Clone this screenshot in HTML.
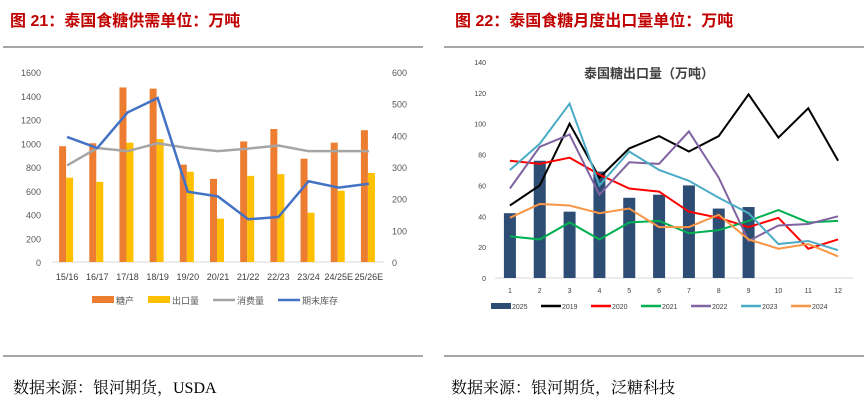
<!DOCTYPE html>
<html><head><meta charset="utf-8"><style>
body{margin:0;width:864px;height:403px;background:#fff;overflow:hidden;font-family:"Liberation Sans","Noto Sans CJK SC",sans-serif}
svg{position:absolute;left:0;top:0}
</style></head><body>
<svg id="s" width="864" height="403">
<text x="10" y="26" font-size="16" font-weight="bold" fill="#c00000">图 21：泰国食糖供需单位：万吨</text>
<text x="455" y="26" font-size="16" font-weight="bold" fill="#c00000">图 22：泰国食糖月度出口量单位：万吨</text>
<line x1="3" y1="47" x2="423" y2="47" stroke="#888" stroke-width="1.5"/>
<line x1="444" y1="47" x2="864" y2="47" stroke="#888" stroke-width="1.5"/>
<line x1="3" y1="356" x2="423" y2="356" stroke="#888" stroke-width="1.5"/>
<line x1="444" y1="356" x2="864" y2="356" stroke="#888" stroke-width="1.5"/>
<text x="13" y="393" font-size="16" fill="#000" font-family="Liberation Serif,Noto Serif CJK SC,serif">数据来源：银河期货，USDA</text>
<text x="451" y="393" font-size="16" fill="#000" font-family="Liberation Serif,Noto Serif CJK SC,serif">数据来源：银河期货，泛糖科技</text>
<text x="649" y="78" font-size="13" font-weight="bold" fill="#404040" text-anchor="middle">泰国糖出口量（万吨）</text>
<g id="L"></g><g id="R"></g>
</svg>
<script>
const NS="http://www.w3.org/2000/svg";
function mk(p,t,a,txt){const e=document.createElementNS(NS,t);for(const k in a)e.setAttribute(k,a[k]);if(txt!=null)e.textContent=txt;p.appendChild(e);return e;}
// Left chart data
const seasons=["15/16","16/17","17/18","18/19","19/20","20/21","21/22","22/23","23/24","24/25E","25/26E"];
const production=[975,1000,1470,1460,820,700,1015,1120,870,1005,1110];
const exportsL=[710,675,1005,1035,760,365,725,740,415,600,750];
const consumption=[305,360,350,375,360,350,358,368,350,350,350];
const stock=[395,360,472,518,222,207,135,142,255,235,247];
const leftTicks=[0,200,400,600,800,1000,1200,1400,1600];
const rightTicks=[0,100,200,300,400,500,600];
// Right chart data
const months=[1,2,3,4,5,6,7,8,9,10,11,12];
const y2025=[42,76,43,69,52,54,60,45,46];
const y2019=[47,60,100,65,84,92,82,92,119,91,110,76];
const y2020=[76,74,78,67,58,56,43,39,33,39,19,25];
const y2021=[27,25,36,25,36,37,29,31,37,44,36,37];
const y2022=[58,85,93,54,75,74,95,65,24,34,35,40];
const y2023=[70,87,113,60,82,70,63,52,42,22,24,18];
const y2024=[39,48,47,42,45,33,33,41,25,19,22,14];
const rTicks=[0,20,40,60,80,100,120,140];

(function(){
const g=document.getElementById('L');
const x0=52,x1=384,yb=262,yt=72,bw=(x1-x0)/seasons.length;
const yL=v=>yb-(v/1600)*(yb-yt), yR=v=>yb-(v/600)*(yb-yt), xc=i=>x0+bw*(i+0.5);
mk(g,'line',{x1:x0,y1:yb,x2:x1,y2:yb,stroke:'#d9d9d9',});
leftTicks.forEach(t=>{const e=mk(g,'text',{x:41,y:yL(t)+4,'font-size':9,fill:'#595959','text-anchor':'end'},t);});
rightTicks.forEach(t=>{const e=mk(g,'text',{x:392,y:yR(t)+4,'font-size':9,fill:'#595959'},t);});
seasons.forEach((s,i)=>{
 let e=mk(g,'rect',{x:xc(i)-8,y:yL(production[i]),width:7,height:yb-yL(production[i]),fill:'#ed7d31'});
 
 e=mk(g,'rect',{x:xc(i)-1,y:yL(exportsL[i]),width:7,height:yb-yL(exportsL[i]),fill:'#ffc000'});
 
 e=mk(g,'text',{x:xc(i),y:280,'font-size':9,fill:'#404040','text-anchor':'middle'},s);
 
});
let e=mk(g,'polyline',{points:consumption.map((v,i)=>xc(i)+','+yR(v)).join(' '),fill:'none',stroke:'#a5a5a5','stroke-width':2.5});

e=mk(g,'polyline',{points:stock.map((v,i)=>xc(i)+','+yR(v)).join(' '),fill:'none',stroke:'#4472c4','stroke-width':2.5});

const leg=[['糖产','#ed7d31','r',92],['出口量','#ffc000','r',148],['消费量','#a5a5a5','l',213],['期末库存','#4472c4','l',278]];
leg.forEach(l=>{
 let e=l[2]=='r'?mk(g,'rect',{x:l[3],y:296,width:22,height:7,fill:l[1]}):mk(g,'line',{x1:l[3],y1:300,x2:l[3]+22,y2:300,stroke:l[1],'stroke-width':2.5});
 
 e=mk(g,'text',{x:l[3]+24,y:304,'font-size':9,fill:'#595959'},l[0]);
 
});
})();

(function(){
const g=document.getElementById('R');
const x0=495,x1=853,yb=278,yt=62,bw=(x1-x0)/months.length;
const y=v=>yb-(v/140)*(yb-yt), xc=i=>x0+bw*(i+0.5);
mk(g,'line',{x1:x0,y1:yb,x2:x1,y2:yb,stroke:'#d9d9d9',});
rTicks.forEach(t=>{const e=mk(g,'text',{x:486,y:y(t)+3,'font-size':7,fill:'#404040','text-anchor':'end'},t);});
months.forEach((m,i)=>{const e=mk(g,'text',{x:xc(i),y:293,'font-size':7,fill:'#404040','text-anchor':'middle'},m);});
y2025.forEach((v,i)=>{const e=mk(g,'rect',{x:xc(i)-6,y:y(v),width:12,height:yb-y(v),fill:'#2e4d74'});});
const series=[[y2019,'#000000','2019'],[y2020,'#ff0000','2020'],[y2021,'#00b050','2021'],[y2022,'#8064a2','2022'],[y2023,'#4bacc6','2023'],[y2024,'#f79646','2024']];
series.forEach(s=>{const e=mk(g,'polyline',{points:s[0].map((v,i)=>xc(i)+','+y(v)).join(' '),fill:'none',stroke:s[1],'stroke-width':2});});
const leg=[['2025','#2e4d74',491],['2019','#000',541],['2020','#ff0000',591],['2021','#00b050',641],['2022','#8064a2',691],['2023','#4bacc6',741],['2024','#f79646',791]];
leg.forEach((l,k)=>{
 let e=k==0?mk(g,'rect',{x:l[2],y:303,width:20,height:6,fill:l[1]}):mk(g,'line',{x1:l[2],y1:306,x2:l[2]+20,y2:306,stroke:l[1],'stroke-width':2.5});
 
 e=mk(g,'text',{x:l[2]+21,y:309,'font-size':7,fill:'#404040'},l[0]);
 
});
})();
</script>
</body></html>
